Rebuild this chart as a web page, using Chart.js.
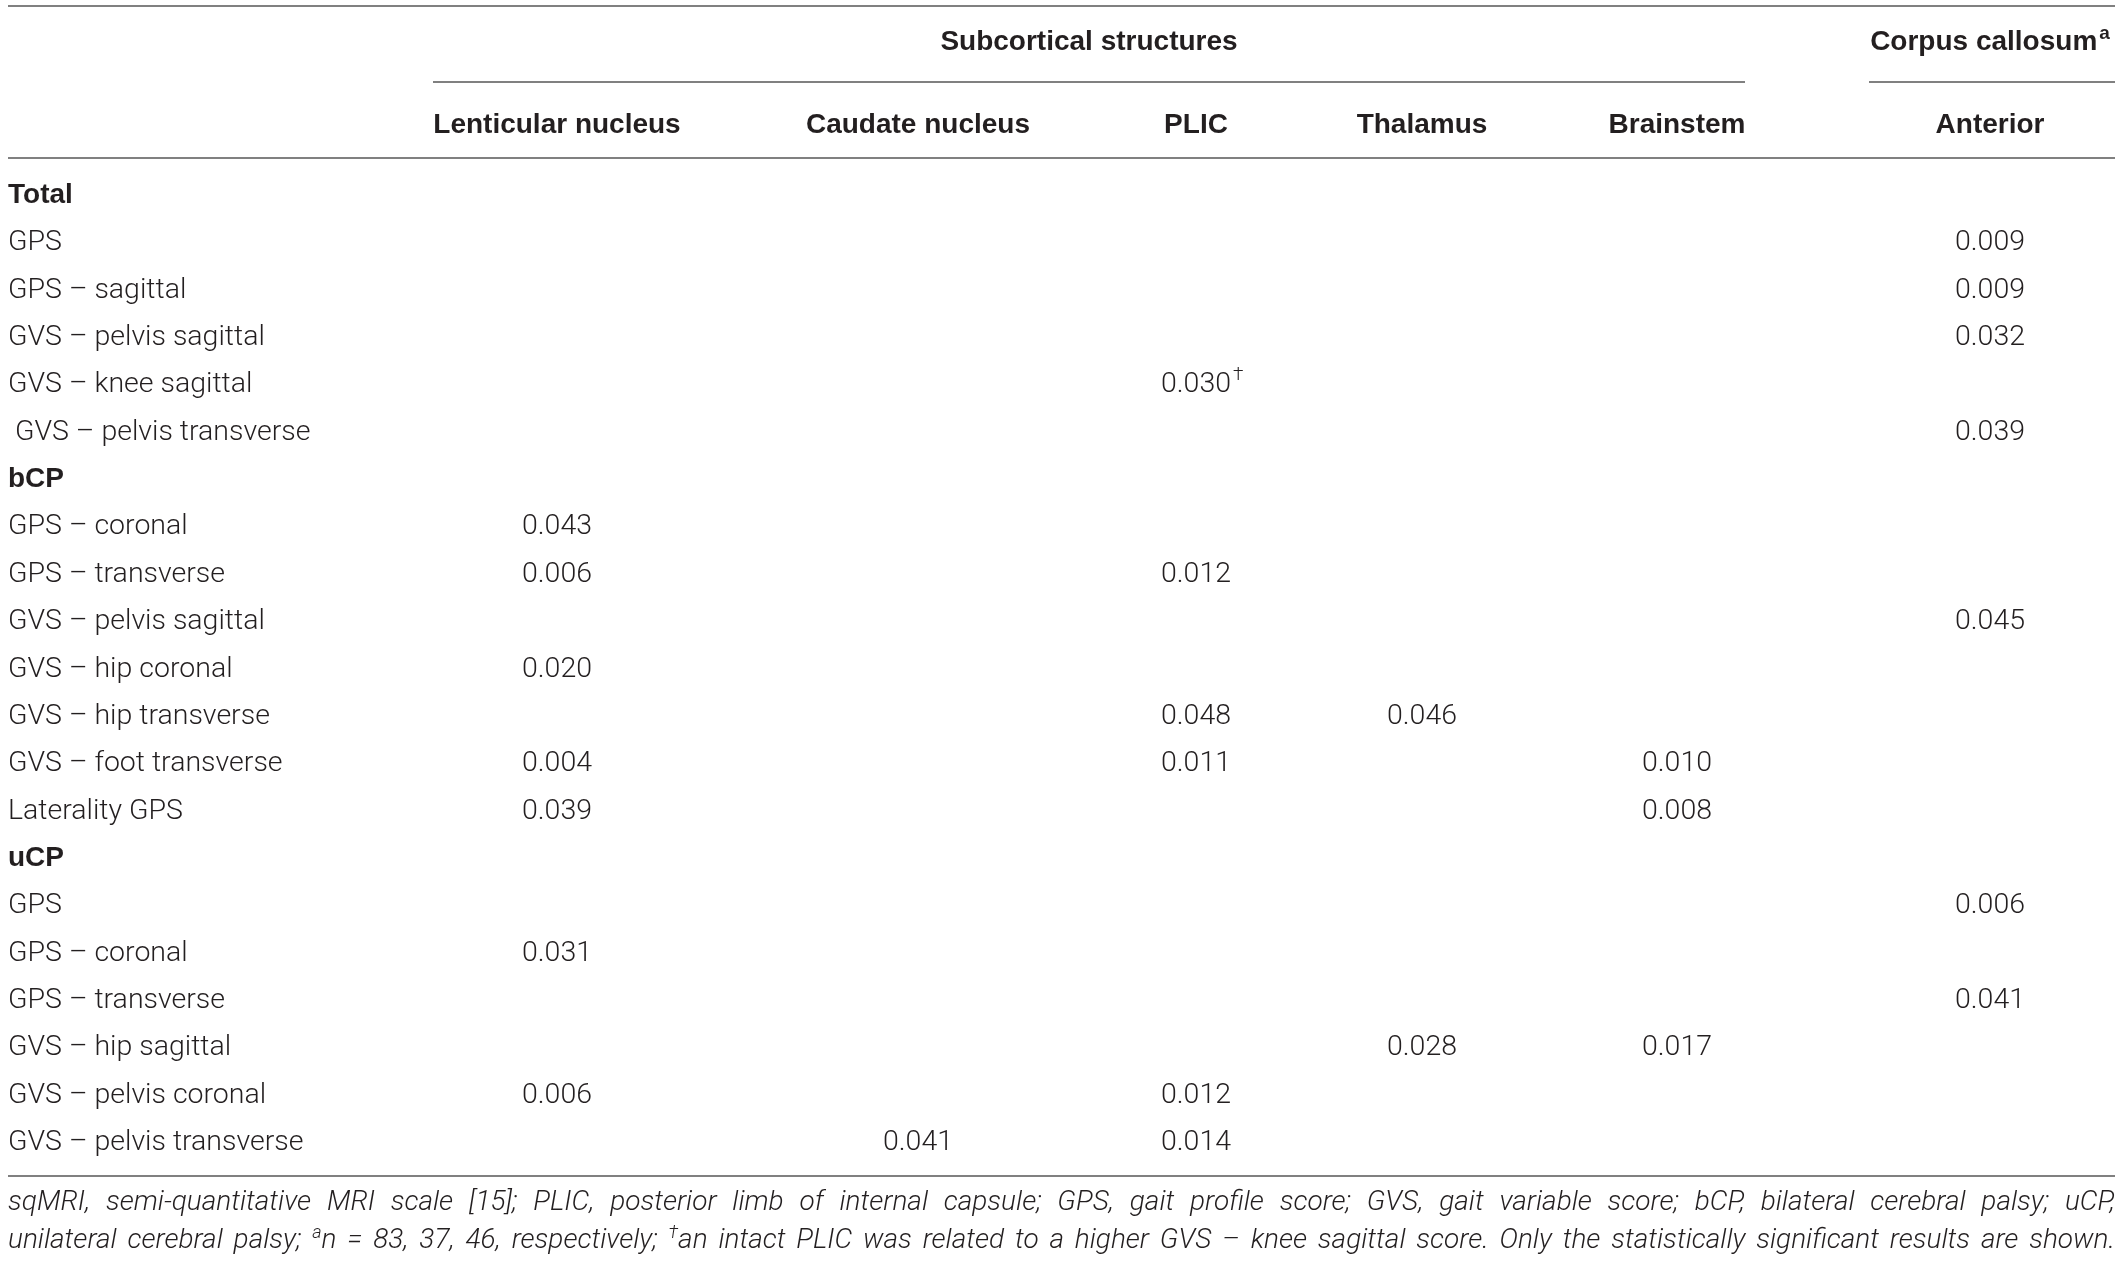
<!DOCTYPE html>
<html>
<head>
<meta charset="utf-8">
<script src="https://cdn.jsdelivr.net/npm/chart.js@4.4.1/dist/chart.umd.min.js"></script>
<style>
  html, body { margin: 0; padding: 0; background: #fff; }
  #wrap { width: 2121px; height: 1262px; position: relative; }
</style>
</head>
<body>
<div id="wrap"><canvas id="tableChart"></canvas></div>
<script>
// row labels, top to bottom
const rowLabels = [
  'Total', 'GPS', 'GPS – sagittal', 'GVS – pelvis sagittal', 'GVS – knee sagittal', ' GVS – pelvis transverse',
  'bCP', 'GPS – coronal', 'GPS – transverse', 'GVS – pelvis sagittal', 'GVS – hip coronal', 'GVS – hip transverse',
  'GVS – foot transverse', 'Laterality GPS',
  'uCP', 'GPS', 'GPS – coronal', 'GPS – transverse', 'GVS – hip sagittal', 'GVS – pelvis coronal', 'GVS – pelvis transverse'
];
const groupRows = [0, 6, 14];

const columnLabels = ['Lenticular nucleus', 'Caudate nucleus', 'PLIC', 'Thalamus', 'Brainstem', 'Anterior'];

// p-values per column, one entry per row (null = not significant)
const _ = null;
const lenticular = [_, _, _, _, _, _, _, 0.043, 0.006, _, 0.020, _, 0.004, 0.039, _, _, 0.031, _, _, 0.006, _];
const caudate    = [_, _, _, _, _, _, _, _, _, _, _, _, _, _, _, _, _, _, _, _, 0.041];
const plic       = [_, _, _, _, 0.030, _, _, _, 0.012, _, _, 0.048, 0.011, _, _, _, _, _, _, 0.012, 0.014];
const thalamus   = [_, _, _, _, _, _, _, _, _, _, _, 0.046, _, _, _, _, _, _, 0.028, _, _];
const brainstem  = [_, _, _, _, _, _, _, _, _, _, _, _, 0.010, 0.008, _, _, _, _, 0.017, _, _];
const anterior   = [_, 0.009, 0.009, 0.032, _, 0.039, _, _, _, 0.045, _, _, _, _, _, 0.006, _, 0.041, _, _, _];
const columnValues = [lenticular, caudate, plic, thalamus, brainstem, anterior];

// footnote markers on single cells: [column, row, mark]
const cellMarks = [[2, 4, '†']];

const spanHeaders = ['Subcortical structures', 'Corpus callosum'];
const spanSup = ['', 'a'];

const footLine1 = [['sqMRI, semi-quantitative MRI scale [15]; PLIC, posterior limb of internal capsule; GPS, gait profile score; GVS, gait variable score; bCP, bilateral cerebral palsy; uCP,', false]];
const footLine2 = [
  ['unilateral cerebral palsy; ', false], ['a', true], ['n = 83, 37, 46, respectively; ', false], ['†', true],
  ['an intact PLIC was related to a higher GVS – knee sagittal score. Only the statistically significant results are shown.', false]
];

// layout (x in table units = px across the page)
const colCentres = [557, 918, 1196, 1422, 1677, 1990];
const spanCentres = [1089, 1990];
const spanRules = [[433, 1745], [1869, 2115]];
const tableLeft = 8, tableRight = 2115;
const ink = '#231f20';
const ruleColour = '#808080';
const bodyFont = '300 28.5px Roboto, "Liberation Sans", sans-serif';
const boldFont = 'bold 28px "Liberation Sans", Arial, sans-serif';

function drawJustified(ctx, runs, x0, x1, y, font, supFont) {
  const words = [[]];
  runs.forEach(([text, sup]) => {
    text.split(' ').forEach((part, k) => {
      if (k > 0) words.push([]);
      if (part) words[words.length - 1].push({ t: part, sup });
    });
  });
  const list = words.filter(w => w.length);
  const widthOf = p => { ctx.font = p.sup ? supFont : font; return ctx.measureText(p.t).width; };
  const wordW = list.map(w => w.reduce((s, p) => s + widthOf(p), 0));
  const total = wordW.reduce((a, b) => a + b, 0);
  const gap = Math.max(4, (x1 - x0 - total) / (list.length - 1));
  let x = x0;
  list.forEach(w => {
    w.forEach(p => {
      ctx.font = p.sup ? supFont : font;
      ctx.fillText(p.t, x, p.sup ? y - 10 : y);
      x += ctx.measureText(p.t).width;
    });
    x += gap;
  });
}

const tablePlugin = {
  id: 'tableText',
  afterDatasetsDraw(chart) {
    const ctx = chart.ctx;
    const xs = chart.scales.x, ys = chart.scales.y;
    ctx.save();
    ctx.fillStyle = ink;

    // rules
    ctx.strokeStyle = ruleColour;
    ctx.lineWidth = 2;
    const hline = (a, b, y) => {
      ctx.beginPath();
      ctx.moveTo(xs.getPixelForValue(a), y);
      ctx.lineTo(xs.getPixelForValue(b), y);
      ctx.stroke();
    };
    hline(tableLeft, tableRight, 6);
    spanRules.forEach(([a, b]) => hline(a, b, 82));
    hline(tableLeft, tableRight, 158);
    hline(tableLeft, tableRight, 1176);

    // spanning headers
    ctx.textBaseline = 'alphabetic';
    spanHeaders.forEach((txt, i) => {
      ctx.font = boldFont;
      const w = ctx.measureText(txt).width;
      ctx.font = 'bold 19px "Liberation Sans", Arial, sans-serif';
      const sw = spanSup[i] ? ctx.measureText(spanSup[i]).width + 2 : 0;
      const cx = xs.getPixelForValue(spanCentres[i]);
      const x0 = cx - (w + sw) / 2;
      ctx.font = boldFont;
      ctx.textAlign = 'left';
      ctx.fillText(txt, x0, 50);
      if (spanSup[i]) {
        ctx.font = 'bold 19px "Liberation Sans", Arial, sans-serif';
        ctx.fillText(spanSup[i], x0 + w + 2, 39);
      }
    });

    // column headers
    ctx.font = boldFont;
    ctx.textAlign = 'center';
    columnLabels.forEach((txt, c) => {
      ctx.fillText(txt, xs.getPixelForValue(colCentres[c]), 133);
    });

    // row labels
    ctx.textAlign = 'left';
    rowLabels.forEach((txt, i) => {
      ctx.font = groupRows.includes(i) ? boldFont : bodyFont;
      ctx.fillText(txt, xs.getPixelForValue(tableLeft), ys.getPixelForValue(i) + 10);
    });

    // cell values from dataset elements
    chart.data.datasets.forEach((ds, c) => {
      const meta = chart.getDatasetMeta(c);
      meta.data.forEach((el, j) => {
        const raw = ds.data[j];
        const txt = raw.p.toFixed(3);
        ctx.textAlign = 'center';
        ctx.font = bodyFont;
        ctx.fillText(txt, el.x, el.y + 10);
        const mark = cellMarks.find(m => m[0] === c && m[1] === raw.y);
        if (mark) {
          const w = ctx.measureText(txt).width;
          ctx.font = '300 19px Roboto, "Liberation Sans", sans-serif';
          ctx.textAlign = 'left';
          ctx.fillText(mark[2], el.x + w / 2 + 2, el.y - 2);
        }
      });
    });

    // footnote
    ctx.textAlign = 'left';
    const fFont = 'italic 300 28px Roboto, "Liberation Sans", sans-serif';
    const fSup = 'italic 300 18px Roboto, "Liberation Sans", sans-serif';
    drawJustified(ctx, footLine1, xs.getPixelForValue(tableLeft), xs.getPixelForValue(tableRight), 1210, fFont, fSup);
    drawJustified(ctx, footLine2, xs.getPixelForValue(tableLeft), xs.getPixelForValue(tableRight), 1248, fFont, fSup);
    ctx.restore();
  }
};

new Chart(document.getElementById('tableChart').getContext('2d'), {
  type: 'scatter',
  data: {
    datasets: columnLabels.map((name, c) => ({
      label: name,
      data: columnValues[c]
        .map((v, i) => (v === null ? null : { x: colCentres[c], y: i, p: v }))
        .filter(Boolean),
      pointRadius: 0,
      pointHoverRadius: 0
    }))
  },
  options: {
    responsive: true,
    maintainAspectRatio: false,
    animation: false,
    layout: { padding: { top: 169.3, bottom: 98.3, left: 0, right: 0 } },
    plugins: { legend: { display: false }, tooltip: { enabled: false } },
    scales: {
      x: { type: 'linear', min: 0, max: 2121, display: false },
      y: { type: 'linear', reverse: true, min: -0.5, max: 20.5, display: false }
    }
  },
  plugins: [tablePlugin]
});
</script>
</body>
</html>
